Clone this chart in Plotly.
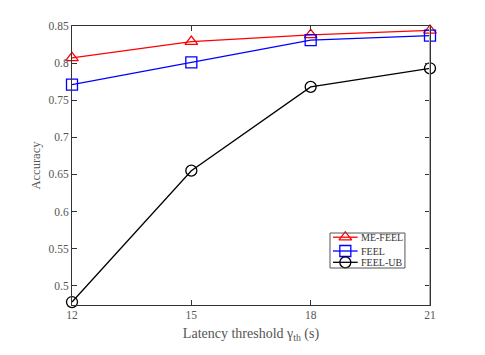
import plotly.graph_objects as go

latency = [12, 15, 18, 21]
me_feel = [0.807, 0.829, 0.838, 0.844]
feel = [0.771, 0.801, 0.831, 0.837]
feel_ub = [0.478, 0.655, 0.768, 0.793]

x_ticks = [12, 15, 18, 21]
y_ticks = [0.5, 0.55, 0.6, 0.65, 0.7, 0.75, 0.8, 0.85]

names = ['ME-FEEL', 'FEEL', 'FEEL-UB']
colors = ['red', 'blue', 'black']
symbols = ['triangle-up-open', 'square-open', 'circle-open']

fig = go.Figure()
for name, vals, color, sym in zip(names, [me_feel, feel, feel_ub], colors, symbols):
    fig.add_trace(go.Scatter(
        x=latency, y=vals, name=name, mode='lines+markers',
        line=dict(color=color, width=1.3),
        marker=dict(symbol=sym, size=11, color=color, line=dict(width=1.3, color=color)),
        cliponaxis=False, showlegend=False,
    ))

# compact MATLAB-style legend, drawn on an overlay axis (0..1 of the plot area)
leg_rows = [0.243, 0.1935, 0.153]
for name, color, sym, ry in zip(names, colors, symbols, leg_rows):
    fig.add_trace(go.Scatter(
        x=[0.729, 0.798], y=[ry, ry], mode='lines', xaxis='x2', yaxis='y2',
        line=dict(color=color, width=1.3), showlegend=False, hoverinfo='skip'))
    fig.add_trace(go.Scatter(
        x=[0.7635], y=[ry], mode='markers', xaxis='x2', yaxis='y2',
        marker=dict(symbol=sym, size=11, color=color, line=dict(width=1.3, color=color)),
        showlegend=False, hoverinfo='skip'))
    fig.add_annotation(x=0.801, y=ry, xref='x2', yref='y2', text=name, showarrow=False,
                       xanchor='left', yanchor='middle',
                       font=dict(size=10, color='#333333'))
fig.add_shape(type='rect', xref='x2', yref='y2', x0=0.7207, x1=0.93, y0=0.1326, y1=0.258,
              line=dict(color='#555555', width=1), fillcolor='rgba(0,0,0,0)')
# right border as rendered in the reference (light grey)
fig.add_shape(type='line', xref='x2', yref='y2', x0=1, x1=1, y0=0, y1=1,
              line=dict(color='#b0b0b0', width=2))

axis_font = dict(family='Liberation Serif, Times New Roman, serif', size=11.5, color='#555555')
# the page body adds an 8px offset, so margins are shifted to compensate
fig.update_layout(
    width=485, height=355,
    margin=dict(l=64, r=63, t=18, b=58),
    paper_bgcolor='white', plot_bgcolor='white',
    font=dict(family='Liberation Serif, Times New Roman, serif', color='#444444'),
    showlegend=False,
    xaxis=dict(
        range=[12, 21], tickvals=x_ticks, ticks='inside', ticklen=5,
        tickcolor='#333333', linecolor='#333333', linewidth=1, mirror='ticks',
        showgrid=False, zeroline=False, tickfont=axis_font, ticklabelstandoff=-1,
        title=dict(text='Latency threshold γ<sub>th</sub> (s)',
                   font=dict(size=14, color='#555555'), standoff=8),
    ),
    yaxis=dict(
        range=[0.474, 0.85], tickvals=y_ticks, ticks='inside', ticklen=5,
        tickcolor='#333333', linecolor='#333333', linewidth=1, mirror='ticks',
        showgrid=False, zeroline=False, tickfont=axis_font,
        title=dict(text='Accuracy', font=dict(size=12.5, color='#555555'), standoff=5),
    ),
    xaxis2=dict(overlaying='x', range=[0, 1], visible=False, fixedrange=True),
    yaxis2=dict(overlaying='y', range=[0, 1], visible=False, fixedrange=True),
)

fig.write_html('out.html')
